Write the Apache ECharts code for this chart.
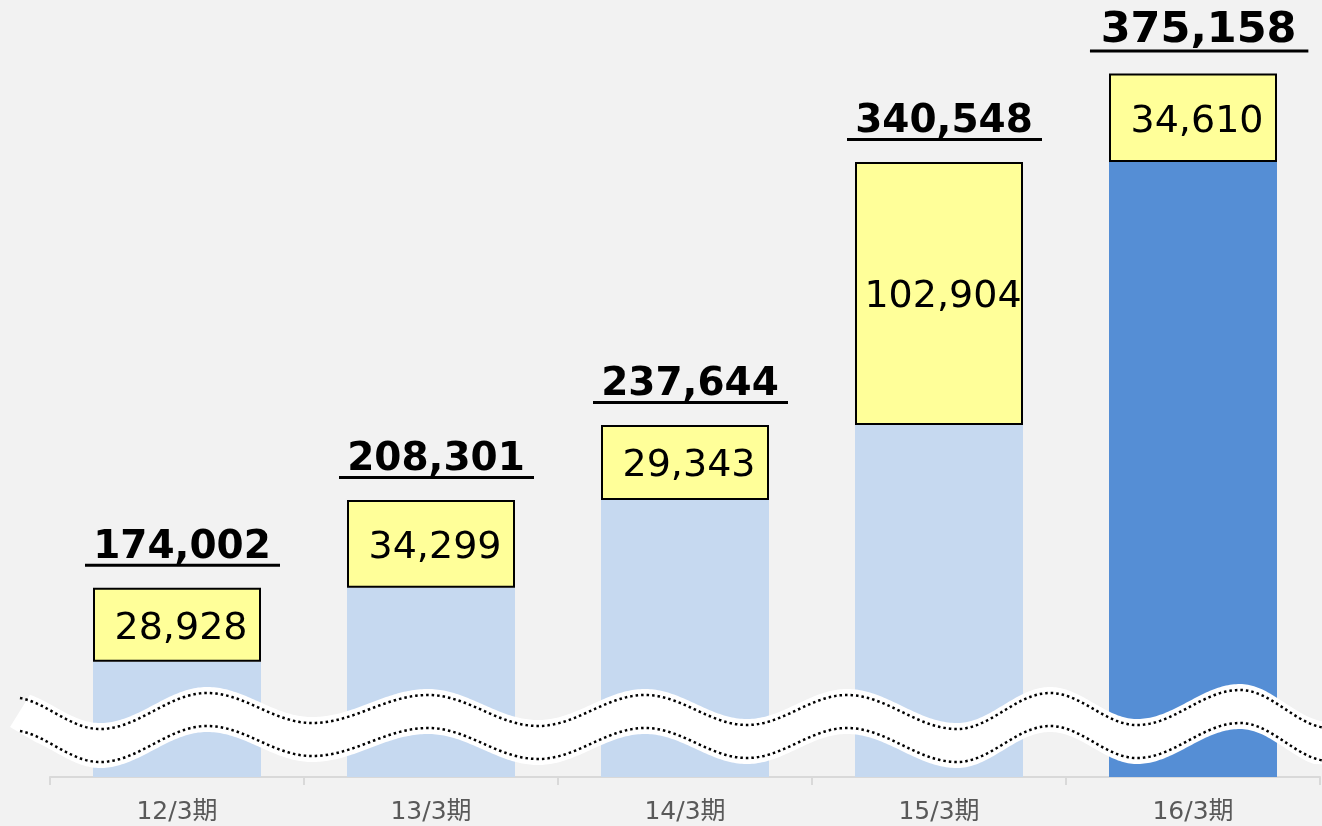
<!DOCTYPE html>
<html>
<head>
<meta charset="utf-8">
<script src="https://cdn.jsdelivr.net/npm/echarts@6/dist/echarts.min.js"></script>
<style>
html,body{margin:0;padding:0;background:#f2f2f2;}
#chart{width:1322px;height:826px;}
</style>
</head>
<body>
<div id="chart"></div>
<script>
// ---- data ----
const categories = ['12/3期', '13/3期', '14/3期', '15/3期', '16/3期'];
const totals = [174002, 208301, 237644, 340548, 375158];
const increments = [28928, 34299, 29343, 102904, 34610];
const yMin = 100000;
const yMax = 400000;

// base part = total minus the increment of the period
const bases = totals.map((t, i) => t - increments[i]);
const lastIndex = categories.length - 1;

const fmt = v => v.toLocaleString('en-US');

const chart = echarts.init(document.getElementById('chart'), null, { renderer: 'canvas' });

// decorative wave (axis-break mark) control points: upper dotted edge
const waveCtrl = [[10,697],[100,729],[207,693],[312,723],[428,695],[538,726],[645,695],[747,725],[847,695],[957,729],[1050,693],[1137,725],[1240,690],[1330,728]];
function waveY(x) {
  if (x <= waveCtrl[0][0]) return waveCtrl[0][1];
  for (let i = 0; i < waveCtrl.length - 1; i++) {
    const a = waveCtrl[i], b = waveCtrl[i + 1];
    if (x >= a[0] && x <= b[0]) {
      const t = (x - a[0]) / (b[0] - a[0]);
      return a[1] + (b[1] - a[1]) * (1 - Math.cos(Math.PI * t)) / 2;
    }
  }
  return waveCtrl[waveCtrl.length - 1][1];
}
const GAP = 33, PAD = 6;
const upper = [], lower = [];
for (let x = 20; x <= 1322; x += 2) { upper.push([x, waveY(x)]); lower.push([x, waveY(x) + GAP]); }
const bandTop = [], bandBot = [];
for (let x = 30; x <= 1322; x += 2) bandTop.push([x, waveY(x) - PAD]);
for (let x = 1314; x >= 36; x -= 2) bandBot.push([x, waveY(x) + GAP + PAD]);
const bandPoly = bandTop
  .concat([[1322, waveY(1322) + GAP + 4]])
  .concat(bandBot)
  .concat([[10, 727]]);

const option = {
  backgroundColor: '#f2f2f2',
  animation: false,
  grid: { left: 50, right: 2, top: 10, bottom: 49 },
  xAxis: {
    type: 'category',
    data: categories,
    axisLine: { show: true, lineStyle: { color: '#d9d9d9', width: 2 } },
    axisTick: { show: true, length: 8, lineStyle: { color: '#d9d9d9', width: 2 } },
    axisLabel: { color: '#595959', fontSize: 25, margin: 23, fontFamily: '"DejaVu Sans", "Noto Sans CJK JP", sans-serif' },
    z: 1
  },
  yAxis: { type: 'value', min: yMin, max: yMax, show: false, splitLine: { show: false } },
  series: [
    {
      type: 'bar', stack: 'a', barWidth: 168, z: 2,
      data: bases.map((v, i) => ({ value: v, itemStyle: { color: i === lastIndex ? '#558ed5' : '#c6d9f0' } })),
      silent: true
    },
    {
      type: 'bar', stack: 'a', barWidth: 169, z: 3,
      itemStyle: { color: '#ffff99', borderColor: '#000000', borderWidth: 2 },
      data: increments,
      label: {
        show: true, position: 'inside', color: '#000', fontSize: 38,
        fontFamily: 'DejaVu Sans, sans-serif', offset: [4, 4],
        formatter: p => fmt(p.value)
      },
      silent: true
    },
    {
      type: 'custom', z: 5, silent: true,
      data: totals.map((v, i) => [i, v]),
      renderItem: (params, api) => {
        const p = api.coord([api.value(0), api.value(1)]);
        const big = params.dataIndex === lastIndex;
        const s = big ? 1.12 : 1;
        return {
          type: 'group',
          children: [
            {
              type: 'text',
              style: {
                text: fmt(api.value(1)),
                x: p[0] + 5 * s, y: p[1] - (big ? 43 : 40),
                align: 'center', verticalAlign: 'middle',
                fontSize: big ? 43 : 39, fontWeight: 'bold',
                fontFamily: 'DejaVu Sans, sans-serif', fill: '#000'
              }
            },
            {
              type: 'rect',
              shape: { x: p[0] - 92 * s, y: p[1] - 24, width: 195 * s, height: 3 },
              style: { fill: '#000' }
            }
          ]
        };
      }
    }
  ],
  graphic: [
    { type: 'polygon', z: 100, silent: true, shape: { points: bandPoly }, style: { fill: '#ffffff' } },
    { type: 'polyline', z: 101, silent: true, shape: { points: upper }, style: { stroke: '#000', lineWidth: 2.5, lineDash: [2.5, 3], fill: null } },
    { type: 'polyline', z: 101, silent: true, shape: { points: lower }, style: { stroke: '#000', lineWidth: 2.5, lineDash: [2.5, 3], fill: null } }
  ]
};
chart.setOption(option);
</script>
</body>
</html>
